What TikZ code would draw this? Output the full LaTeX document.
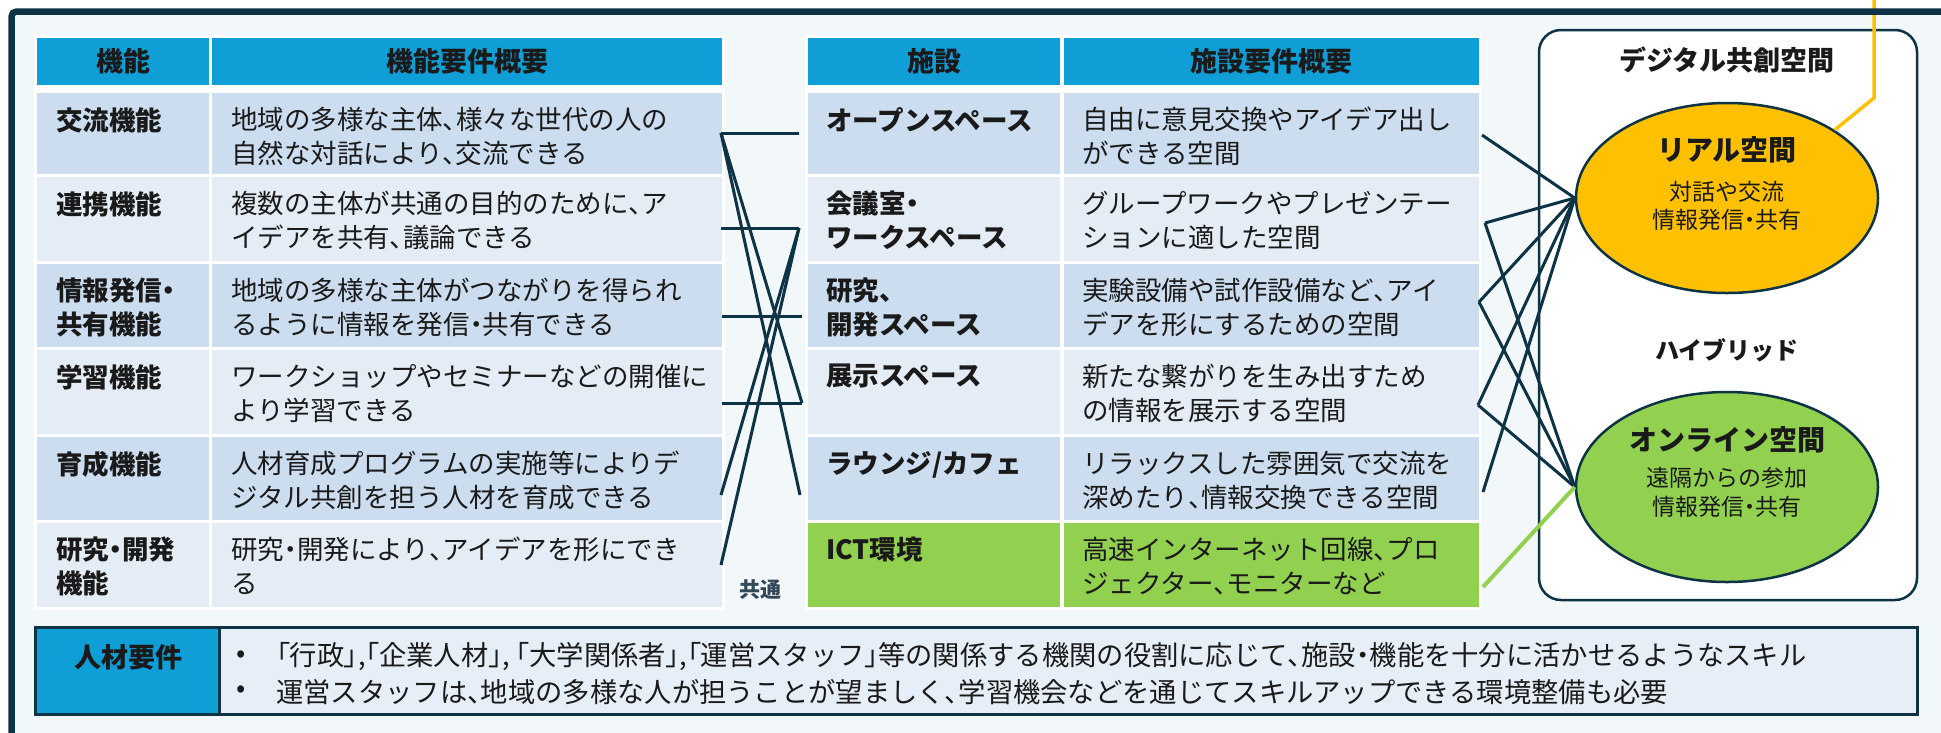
\documentclass[tikz,border=0pt]{standalone}
\usepackage{fontspec}
\setmainfont{Noto Sans CJK JP}
\usetikzlibrary{shapes.geometric}
\definecolor{navy}{HTML}{0E3345}
\definecolor{bgc}{HTML}{F2F7FA}
\definecolor{hdrblue}{HTML}{0F9ED6}
\definecolor{rowd}{HTML}{CBDDEE}
\definecolor{rowl}{HTML}{E4ECF5}
\definecolor{grn}{HTML}{92D050}
\definecolor{yel}{HTML}{FFC000}
\definecolor{txtc}{HTML}{1A1A1A}
\definecolor{kyotsu}{HTML}{33495A}
\definecolor{botl}{HTML}{E6EEF7}
\newcommand\fs[2]{\fontsize{#1}{#2}\selectfont}
\newcommand\pa[1]{{\addfontfeatures{RawFeature=+palt}#1}}
\newcommand\ten{\pa{、}}
\newcommand\nak{\pa{・}}
\begin{document}
\begin{tikzpicture}[x=1pt,y=-1pt,
  cell/.style={rectangle,inner sep=0pt,outer sep=0pt,anchor=north west,draw=none},
  tx/.style={inner sep=0pt,anchor=north west,align=left,text=txtc,font=\fs{26.5}{34}},
  btx/.style={tx,font=\bfseries\fs{26.5}{34}},
  bot/.style={inner sep=0pt,anchor=west,text=txtc,font=\fs{27.3}{34}},
  hd/.style={inner sep=0pt,text=txtc,font=\bfseries\fs{27}{34}},
  conn/.style={draw=navy,line width=3pt},
  elab/.style={inner sep=0pt,text=txtc,align=center},
]
\useasboundingbox (0,0) rectangle (1941,732);
\clip (0,0) rectangle (1941,732);
\fill[white] (0,0) rectangle (1941,732);
\fill[bgc,rounded corners=5pt] (11.5,11.5) rectangle (1990,790);

% table backings
\fill[white] (34,35) rectangle (725,610);
\fill[white] (805,35) rectangle (1482,610);

% ---- left table
\node[cell,fill=hdrblue,minimum width=172pt,minimum height=47pt] (lh1) at (37,38) {};
\node[cell,fill=hdrblue,minimum width=510pt,minimum height=47pt] (lh2) at (212,38) {};
\node[hd] (lh1t) at (lh1.center) {機能};
\node[hd] (lh2t) at (lh2.center) {機能要件概要};

\node[cell,fill=rowd,minimum width=172pt,minimum height=81pt] (la1) at (37,93) {};
\node[cell,fill=rowd,minimum width=510pt,minimum height=81pt] (lb1) at (212,93) {};
\node[cell,fill=rowl,minimum width=172pt,minimum height=84pt] (la2) at (37,177) {};
\node[cell,fill=rowl,minimum width=510pt,minimum height=84pt] (lb2) at (212,177) {};
\node[cell,fill=rowd,minimum width=172pt,minimum height=83pt] (la3) at (37,264) {};
\node[cell,fill=rowd,minimum width=510pt,minimum height=83pt] (lb3) at (212,264) {};
\node[cell,fill=rowl,minimum width=172pt,minimum height=84pt] (la4) at (37,350) {};
\node[cell,fill=rowl,minimum width=510pt,minimum height=84pt] (lb4) at (212,350) {};
\node[cell,fill=rowd,minimum width=172pt,minimum height=83pt] (la5) at (37,437) {};
\node[cell,fill=rowd,minimum width=510pt,minimum height=83pt] (lb5) at (212,437) {};
\node[cell,fill=rowl,minimum width=172pt,minimum height=84pt] (la6) at (37,523) {};
\node[cell,fill=rowl,minimum width=510pt,minimum height=84pt] (lb6) at (212,523) {};

\node[btx] (la1t) at (56,107) {交流機能};
\node[tx]  (lb1t) at (231,107) {地域の多様な主体\ten 様々な世代の人の\\自然な対話により\ten 交流できる};
\node[btx] (la2t) at (56,191) {連携機能};
\node[tx]  (lb2t) at (231,191) {複数の主体が共通の目的のために\ten ア\\イデアを共有\ten 議論できる};
\node[btx] (la3t) at (56,278) {情報発信\nak\\共有機能};
\node[tx]  (lb3t) at (231,278) {地域の多様な主体がつながりを得られ\\るように情報を発信\nak 共有できる};
\node[btx] (la4t) at (56,364) {学習機能};
\node[tx]  (lb4t) at (231,364) {ワークショップやセミナーなどの開催に\\より学習できる};
\node[btx] (la5t) at (56,451) {育成機能};
\node[tx]  (lb5t) at (231,451) {人材育成プログラムの実施等によりデ\\ジタル共創を担う人材を育成できる};
\node[btx] (la6t) at (56,537) {研究\nak 開発\\機能};
\node[tx]  (lb6t) at (231,537) {研究\nak 開発により\ten アイデアを形にでき\\る};

% ---- right table
\node[cell,fill=hdrblue,minimum width=252pt,minimum height=47pt] (rh1) at (808,38) {};
\node[cell,fill=hdrblue,minimum width=415pt,minimum height=47pt] (rh2) at (1064,38) {};
\node[hd] (rh1t) at (rh1.center) {施設};
\node[hd] (rh2t) at (rh2.center) {施設要件概要};

\node[cell,fill=rowd,minimum width=252pt,minimum height=81pt] (ra1) at (808,93) {};
\node[cell,fill=rowd,minimum width=415pt,minimum height=81pt] (rb1) at (1064,93) {};
\node[cell,fill=rowl,minimum width=252pt,minimum height=84pt] (ra2) at (808,177) {};
\node[cell,fill=rowl,minimum width=415pt,minimum height=84pt] (rb2) at (1064,177) {};
\node[cell,fill=rowd,minimum width=252pt,minimum height=83pt] (ra3) at (808,264) {};
\node[cell,fill=rowd,minimum width=415pt,minimum height=83pt] (rb3) at (1064,264) {};
\node[cell,fill=rowl,minimum width=252pt,minimum height=84pt] (ra4) at (808,350) {};
\node[cell,fill=rowl,minimum width=415pt,minimum height=84pt] (rb4) at (1064,350) {};
\node[cell,fill=rowd,minimum width=252pt,minimum height=83pt] (ra5) at (808,437) {};
\node[cell,fill=rowd,minimum width=415pt,minimum height=83pt] (rb5) at (1064,437) {};
\node[cell,fill=grn,minimum width=252pt,minimum height=84pt] (ra6) at (808,523) {};
\node[cell,fill=grn,minimum width=415pt,minimum height=84pt] (rb6) at (1064,523) {};

\node[btx] (ra1t) at (826,107) {オープンスペース};
\node[tx]  (rb1t) at (1082,107) {自由に意見交換やアイデア出し\\ができる空間};
\node[btx] (ra2t) at (826,191) {会議室\nak\\ワークスペース};
\node[tx]  (rb2t) at (1082,191) {グループワークやプレゼンテー\\ションに適した空間};
\node[btx] (ra3t) at (826,278) {研究\ten\\開発スペース};
\node[tx]  (rb3t) at (1082,278) {実験設備や試作設備など\ten アイ\\デアを形にするための空間};
\node[btx] (ra4t) at (826,364) {展示スペース};
\node[tx]  (rb4t) at (1082,364) {新たな繋がりを生み出すため\\の情報を展示する空間};
\node[btx] (ra5t) at (826,451) {ラウンジ/カフェ};
\node[tx]  (rb5t) at (1082,451) {リラックスした雰囲気で交流を\\深めたり\ten 情報交換できる空間};
\node[btx] (ra6t) at (826,537) {ICT環境};
\node[tx]  (rb6t) at (1082,537) {高速インターネット回線\ten プロ\\ジェクター\ten モニターなど};

\node[inner sep=0pt,text=kyotsu,font=\bfseries\fs{21}{24}] (kt) at (760,590) {共通};

% ---- middle connectors
\coordinate (l1) at (721,133);
\coordinate (l2) at (721,228);
\coordinate (l3) at (722,316);
\coordinate (l4) at (722,403);
\coordinate (l5) at (721,495);
\coordinate (l6) at (721,565);
\coordinate (r1) at (799,133);
\coordinate (r2) at (799,228);
\coordinate (r3) at (802,316);
\coordinate (r4) at (802,403);
\coordinate (r5) at (800,495);
\draw[conn] (l1) -- (r1);
\draw[conn] (l1) -- (r4);
\draw[conn] (l1) -- (r5);
\draw[conn] (l2) -- (r2);
\draw[conn] (l5) -- (r2);
\draw[conn] (l6) -- (r2);
\draw[conn] (l3) -- (r3);
\draw[conn] (l4) -- (r4);

% ---- digital co-creation space
\node[cell,fill=white,draw=navy,line width=2.5pt,rounded corners=22pt,minimum width=378pt,minimum height=570pt] (dbox) at (1539,30) {};
\node[inner sep=0pt,text=txtc,font=\bfseries\fs{27}{34}] (dtitle) at (1727,60) {デジタル共創空間};
\node[inner sep=0pt,text=txtc,font=\bfseries\fs{24}{30}] (hyb) at (1727,350) {ハイブリッド};

\node[ellipse,draw=navy,line width=2.5pt,fill=yel,minimum width=302pt,minimum height=190pt,inner sep=0pt] (real) at (1727,198) {};
\node[ellipse,draw=navy,line width=2.5pt,fill=grn,minimum width=302pt,minimum height=190pt,inner sep=0pt] (online) at (1727,487) {};

\coordinate (p1) at (1482,135);
\coordinate (p2) at (1485,223);
\coordinate (p3) at (1479,302);
\coordinate (p4) at (1478,405);
\coordinate (p5) at (1483,492);
\coordinate (p6) at (1483,587);
\draw[conn] (p1) -- (real.west);
\draw[conn] (p2) -- (real.west);
\draw[conn] (p3) -- (real.west);
\draw[conn] (p4) -- (real.west);
\draw[conn] (p5) -- (real.west);
\draw[conn] (p2) -- (online.west);
\draw[conn] (p3) -- (online.west);
\draw[conn] (p4) -- (online.west);
\draw[grn,line width=4pt] (p6) -- (online.west);

\node[elab,font=\bfseries\fs{28}{34}] (realt) at (1727,150) {リアル空間};
\node[elab,font=\fs{23}{28}] (reals) at (1727,206) {対話や交流\\情報発信\nak 共有};
\node[elab,font=\bfseries\fs{28}{34}] (onlinet) at (1727,440) {オンライン空間};
\node[elab,font=\fs{23}{29}] (onlines) at (1727,492.5) {遠隔からの参加\\情報発信\nak 共有};

% yellow link
\coordinate (ybend) at (1874,98);
\coordinate (ytop) at (1874,-5);
\draw[yel,line width=3.5pt] (real.north east) -- (ybend) -- (ytop);

% frame border
\draw[navy,line width=6.5pt,rounded corners=5pt] (11.5,11.5) rectangle (1990,790);

% ---- bottom box
\node[cell,fill=botl,minimum width=1882pt,minimum height=87pt] (hbox) at (35,627) {};
\node[cell,fill=hdrblue,minimum width=184pt,minimum height=87pt] (hlab) at (35,627) {};
\draw[navy,line width=3pt] (hbox.north west) rectangle (hbox.south east);
\draw[navy,line width=3pt] (hlab.north east) -- (hlab.south east);
\node[hd] (hlabt) at (128,657) {人材要件};
\node[bot] (bul1) at (236,657) {•};
\node[bot] (bt1) at (276,657) {\pa{「}行政\pa{」},\pa{「}企業人材\pa{」}, \pa{「}大学関係者\pa{」},\pa{「}運営スタッフ\pa{」}等の関係する機関の役割に応じて\ten 施設\nak 機能を十分に活かせるようなスキル};
\node[bot] (bul2) at (236,692) {•};
\node[bot] (bt2) at (276,692) {運営スタッフは\ten 地域の多様な人が担うことが望ましく\ten 学習機会などを通じてスキルアップできる環境整備も必要};
\end{tikzpicture}
\end{document}
